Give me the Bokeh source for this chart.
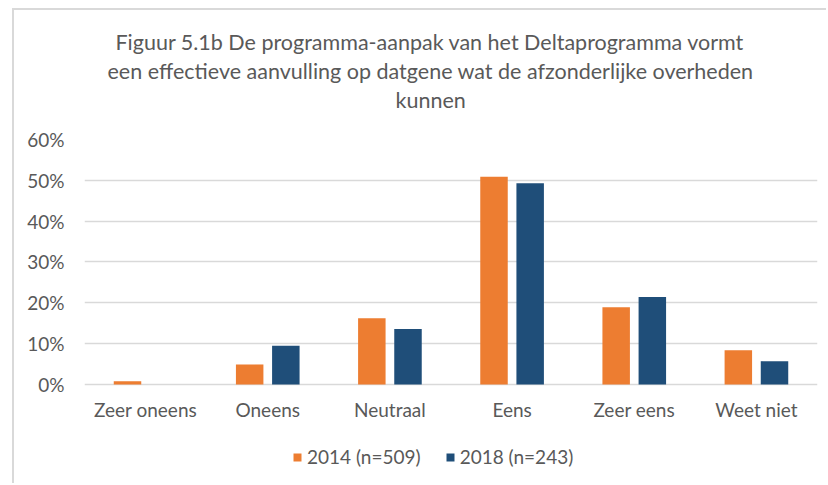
from bokeh.plotting import figure
from bokeh.models import (ColumnDataSource, FactorRange, Range1d, FixedTicker,
                          NumeralTickFormatter, Title, Legend, LegendItem)
from bokeh.transform import dodge
from bokeh.embed import file_html
from bokeh.resources import INLINE

categories = ["Zeer oneens", "Oneens", "Neutraal", "Eens", "Zeer eens", "Weet niet"]
v2014 = [0.008, 0.049, 0.162, 0.509, 0.189, 0.084]
v2018 = [0.0, 0.095, 0.136, 0.493, 0.214, 0.057]
series_labels = ["2014 (n=509)", "2018 (n=243)"]
y_ticks = [0.0, 0.1, 0.2, 0.3, 0.4, 0.5, 0.6]
title_lines = ["Figuur 5.1b De programma-aanpak van het Deltaprogramma vormt",
               "een effectieve  aanvulling op datgene wat de afzonderlijke overheden",
               "kunnen"]

FONT = "Lato"
TXT = "#595959"
ORANGE = "#ED7D31"
BLUE = "#1F4E79"

src = ColumnDataSource(dict(cat=categories, a=v2014, b=v2018))

# the frame reaches down below 0% so that the category labels and the legend sit inside it
p = figure(x_range=FactorRange(*categories), y_range=Range1d(-0.2425, 0.6),
           frame_width=733, frame_height=344,
           min_border_left=70, min_border_right=9, min_border_top=129, min_border_bottom=0,
           output_backend="svg", toolbar_location=None)
p.styles = {"margin-left": "12px", "margin-top": "8px",
            "border-left": "2px solid #d9d9d9", "border-top": "2px solid #d9d9d9"}
p.outline_line_color = None
p.background_fill_color = "white"
p.border_fill_color = "white"

r1 = p.vbar(x=dodge("cat", -0.148, range=p.x_range), top="a", width=0.225, source=src,
            fill_color=ORANGE, line_color=None)
r2 = p.vbar(x=dodge("cat", 0.148, range=p.x_range), top="b", width=0.225, source=src,
            fill_color=BLUE, line_color=None)

p.xgrid.grid_line_color = None
p.ygrid.grid_line_color = "#d9d9d9"
p.ygrid.grid_line_width = 1.5

p.yaxis.ticker = FixedTicker(ticks=y_ticks)
p.yaxis.formatter = NumeralTickFormatter(format="0%")
for ax in (p.xaxis[0], p.yaxis[0]):
    ax.axis_line_color = None
    ax.major_tick_line_color = None
    ax.minor_tick_line_color = None
    ax.major_tick_out = 0
    ax.major_tick_in = 0
    ax.major_label_text_font = FONT
    ax.major_label_text_font_size = "19px"
    ax.major_label_text_color = TXT
p.yaxis.major_label_standoff = 20
p.xaxis.major_label_standoff = 14
p.xaxis.fixed_location = 0

# spacer between title block and plot frame
p.add_layout(Title(text=" ", text_font_size="1px", standoff=23), "above")
# title lines: added bottom-up, left aligned with offsets from frame left
title_offsets = [31, 23, 311]
for txt, off in reversed(list(zip(title_lines, title_offsets))):
    p.add_layout(Title(text=txt, align="left", offset=off, standoff=1,
                       text_font=FONT, text_font_size="21.5px", text_color=TXT,
                       text_font_style="normal"), "above")

legend = Legend(items=[LegendItem(label=series_labels[0], renderers=[r1]),
                       LegendItem(label=series_labels[1], renderers=[r2])],
                orientation="horizontal", location=(208, 15),
                glyph_width=10, glyph_height=10, label_standoff=5, spacing=24,
                padding=0, margin=0, label_height=18,
                label_text_font=FONT, label_text_font_size="19px", label_text_color=TXT,
                border_line_color=None, background_fill_alpha=0)
p.add_layout(legend, "center")

open("out.html", "w").write(file_html(p, INLINE))
